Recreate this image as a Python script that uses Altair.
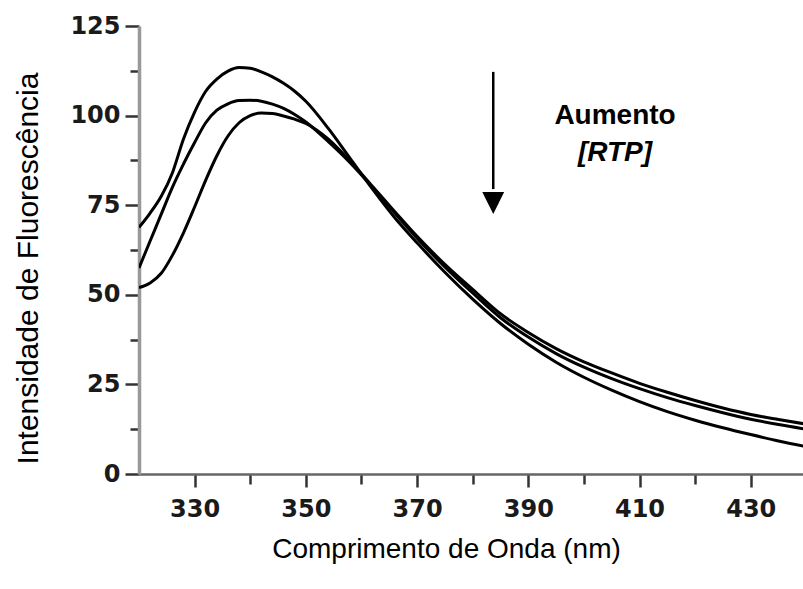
import altair as alt
import pandas as pd

# wavelength grid (nm)
wavelength = [320, 322, 324, 326, 328, 330, 332, 334, 336, 338, 340, 342, 344, 346, 348, 350,
              354, 358, 362, 366, 370, 375, 380, 385, 390, 395, 400, 405, 410, 415, 420, 425,
              430, 435, 440]

# three emission spectra (fluorescence intensity)
curve_a = [68.8, 72.8, 77.5, 84, 93.5, 101, 106.8, 110.2, 112.4, 113.4, 113.2, 112.2, 110.8, 109,
           106.8, 104, 96.5, 88, 79.5, 71.5, 64.5, 56.3, 48.8, 42, 36.2, 31.2, 27, 23.4, 20.2,
           17.4, 15, 12.9, 11, 9.2, 7.6]
curve_b = [57.5, 65, 72.5, 80, 86.5, 92.5, 98, 101.5, 103.3, 104.2, 104.3, 104, 103.2, 102, 100.3,
           98.2, 92.8, 86.8, 80, 72.8, 65.8, 57.8, 50.5, 43.6, 38.2, 33.6, 29.8, 26.6, 23.8, 21.3,
           19.1, 17.1, 15.3, 13.8, 12.5]
curve_c = [52, 53.3, 56, 61, 67.3, 74.5, 82, 88.8, 94.3, 98, 100, 100.7, 100.6, 99.9, 99, 97.8,
           93.5, 87.2, 80.2, 73.2, 66.3, 58.5, 51.5, 44.7, 39.5, 35, 31.3, 28.2, 25.3, 22.8, 20.5,
           18.4, 16.6, 15.2, 13.9]
series_names = ["a", "b", "c"]

x_ticks = [330, 340, 350, 360, 370, 380, 390, 400, 410, 420, 430]
y_ticks = [0, 12.5, 25, 37.5, 50, 62.5, 75, 87.5, 100, 112.5, 125]

annot_text = ["Aumento", "[RTP]"]
annot_x = [405.6, 405.6]
annot_y = [100, 89.6]
arrow_x = [383.7]
arrow_top = [112.2]
arrow_bottom = [79.5]
arrow_tip = [75.6]

rows = []
for name, vals in zip(series_names, [curve_a, curve_b, curve_c]):
    for w, v in zip(wavelength, vals):
        rows.append({"wl": w, "val": v, "s": name})
df = pd.DataFrame(rows)

xscale = alt.Scale(domain=[320, 439.4], nice=False, zero=False)
yscale = alt.Scale(domain=[0, 125], nice=False)

xaxis = alt.Axis(
    values=x_ticks, labelExpr="datum.value % 20 == 10 ? datum.label : ''",
    title="Comprimento de Onda (nm)", grid=False,
    domainColor="#666666", domainWidth=2.5, tickColor="#333333", tickWidth=2.5,
    tickSize={"condition": {"test": "datum.value % 20 == 10", "value": 13}, "value": 10},
    labelFont="DejaVu Sans", labelFontWeight="bold", labelFontSize=24, labelColor="#1a1a1a",
    labelPadding=10, labelFlush=False,
    titleFont="Liberation Sans", titleFontWeight="normal", titleFontSize=28, titleColor="#000000",
    titleX=307, titleY=75, titleBaseline="middle", titleAlign="center",
)
yaxis = alt.Axis(
    values=y_ticks, labelExpr="datum.value % 25 == 0 ? datum.label : ''",
    title="Intensidade de Fluorescência", grid=False,
    domainColor="#999999", domainWidth=3.5, tickColor="#333333", tickWidth=2.5,
    tickSize={"condition": {"test": "datum.value % 25 == 0", "value": 14}, "value": 9},
    labelFont="DejaVu Sans", labelFontWeight="bold", labelFontSize=24, labelColor="#1a1a1a",
    labelPadding=5, labelFlush=False,
    titleFont="Liberation Sans", titleFontWeight="normal", titleFontSize=30, titleColor="#000000",
    titleX=-111, titleY=242, titleBaseline="middle", titleAlign="center", titleAngle=270,
)

lines = alt.Chart(df).mark_line(color="black", strokeWidth=3, interpolate="monotone", clip=True).encode(
    x=alt.X("wl:Q", scale=xscale, axis=xaxis),
    y=alt.Y("val:Q", scale=yscale, axis=yaxis),
    detail="s:N",
)

arrow_df = pd.DataFrame({"x": arrow_x, "y1": arrow_top, "y2": arrow_bottom, "tip": arrow_tip})
shaft = alt.Chart(arrow_df).mark_rule(color="black", strokeWidth=2.5).encode(
    x=alt.X("x:Q", scale=xscale), y=alt.Y("y1:Q", scale=yscale), y2="y2:Q"
)
head = alt.Chart(arrow_df).mark_point(
    shape="M-1,-1 L1,-1 L0,1 Z", size=480, filled=True, color="black", opacity=1
).encode(x=alt.X("x:Q", scale=xscale), y=alt.Y("tip:Q", scale=yscale))

ann_df = pd.DataFrame({"t": annot_text, "x": annot_x, "y": annot_y})
ann1 = alt.Chart(ann_df.iloc[[0]]).mark_text(
    font="Liberation Sans", fontWeight="bold", fontSize=28, color="black", align="center", baseline="middle"
).encode(x=alt.X("x:Q", scale=xscale), y=alt.Y("y:Q", scale=yscale), text="t:N")
ann2 = alt.Chart(ann_df.iloc[[1]]).mark_text(
    font="Liberation Sans", fontWeight="bold", fontStyle="italic", fontSize=28, color="black",
    align="center", baseline="middle"
).encode(x=alt.X("x:Q", scale=xscale), y=alt.Y("y:Q", scale=yscale), text="t:N")

chart = alt.layer(lines, shaft, head, ann1, ann2).properties(
    width=664, height=448,
    autosize=alt.AutoSizeParams(type="none"),
    padding={"left": 139, "top": 26, "right": 0, "bottom": 115},
    background="white",
).configure_view(stroke=None)

chart.save("out.html", embed_options={"renderer": "svg", "actions": False})
